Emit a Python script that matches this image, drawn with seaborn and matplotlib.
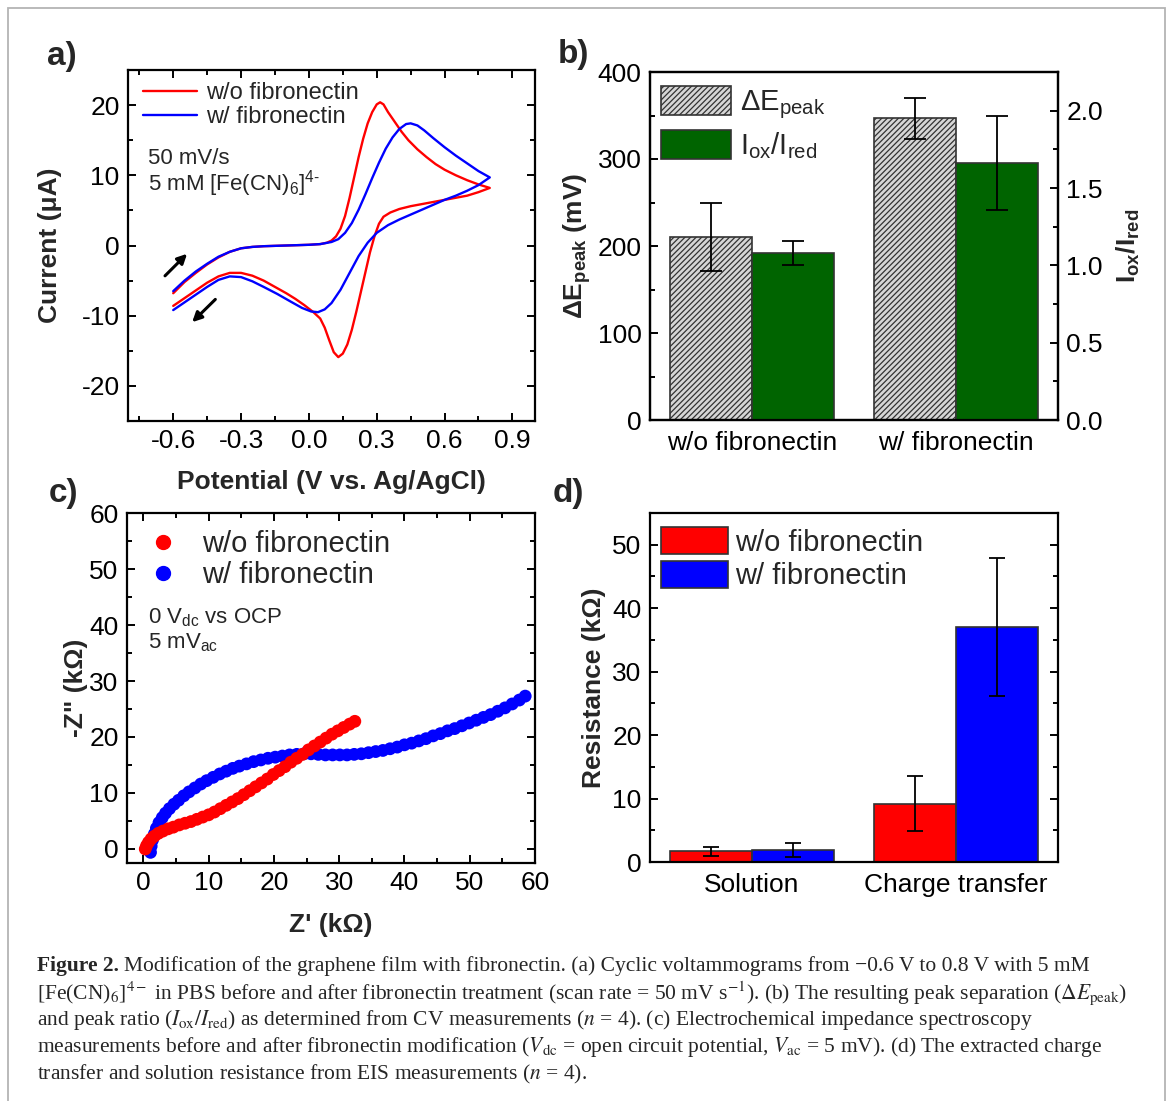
import numpy as np
import pandas as pd
import matplotlib
matplotlib.use("Agg")
import matplotlib.pyplot as plt
import seaborn as sns
from matplotlib.patches import Patch, Rectangle
from matplotlib.lines import Line2D
from matplotlib.ticker import MultipleLocator, FormatStrFormatter

# ---------------- data ----------------
# (a) cyclic voltammograms: forward (anodic) and reverse (cathodic) branches
cv_wo_fwd_E = [-0.60, -0.55, -0.50, -0.45, -0.40, -0.35, -0.30, -0.25, -0.20, -0.10, 0.00, 0.05, 0.08, 0.10,
               0.12, 0.14, 0.16, 0.18, 0.20, 0.22, 0.24, 0.26, 0.28, 0.30, 0.315, 0.33, 0.35, 0.38, 0.41,
               0.44, 0.48, 0.52, 0.56, 0.60, 0.65, 0.70, 0.75, 0.80]
cv_wo_fwd_I = [-6.8, -5.2, -3.9, -2.7, -1.7, -0.9, -0.4, -0.2, -0.1, 0.0, 0.1, 0.2, 0.4, 0.7,
               1.3, 2.4, 4.2, 6.8, 9.7, 12.6, 15.2, 17.4, 19.0, 20.1, 20.4, 20.1, 19.0, 17.6, 16.2,
               15.0, 13.7, 12.6, 11.6, 10.8, 10.0, 9.3, 8.7, 8.2]
cv_wo_rev_E = [0.80, 0.75, 0.70, 0.65, 0.60, 0.55, 0.50, 0.45, 0.40, 0.36, 0.33, 0.31, 0.29, 0.27, 0.25,
               0.23, 0.21, 0.19, 0.17, 0.15, 0.13, 0.11, 0.09, 0.07, 0.05, 0.02, -0.02, -0.06, -0.10,
               -0.15, -0.20, -0.25, -0.30, -0.35, -0.40, -0.45, -0.50, -0.55, -0.60]
cv_wo_rev_I = [8.2, 7.6, 7.1, 6.8, 6.5, 6.2, 5.9, 5.6, 5.2, 4.7, 4.1, 3.1, 1.3, -1.0, -3.8,
               -6.6, -9.4, -12.0, -14.1, -15.4, -15.9, -15.2, -13.5, -11.7, -10.4, -9.5, -8.5, -7.6, -6.8,
               -5.9, -5.0, -4.3, -3.9, -3.9, -4.4, -5.3, -6.4, -7.5, -8.6]
cv_w_fwd_E = [-0.60, -0.55, -0.50, -0.45, -0.40, -0.35, -0.30, -0.25, -0.20, -0.10, 0.00, 0.05, 0.10,
              0.13, 0.16, 0.19, 0.22, 0.25, 0.28, 0.31, 0.34, 0.37, 0.40, 0.43, 0.45, 0.48, 0.51, 0.55,
              0.60, 0.65, 0.70, 0.75, 0.80]
cv_w_fwd_I = [-6.5, -5.0, -3.7, -2.6, -1.6, -0.9, -0.4, -0.2, -0.1, 0.0, 0.1, 0.2, 0.5,
              0.9, 1.8, 3.2, 5.1, 7.3, 9.6, 11.8, 13.8, 15.4, 16.6, 17.3, 17.4, 17.1, 16.4, 15.3,
              14.0, 12.8, 11.7, 10.6, 9.7]
cv_w_rev_E = [0.80, 0.75, 0.70, 0.65, 0.60, 0.55, 0.50, 0.45, 0.40, 0.35, 0.30, 0.26, 0.22, 0.18, 0.14,
              0.10, 0.07, 0.04, 0.01, -0.03, -0.08, -0.14, -0.20, -0.25, -0.30, -0.35, -0.40, -0.45,
              -0.50, -0.55, -0.60]
cv_w_rev_I = [9.7, 8.6, 7.8, 7.1, 6.5, 5.8, 5.1, 4.4, 3.7, 2.9, 1.8, 0.4, -1.5, -3.9, -6.3,
              -8.2, -9.1, -9.5, -9.4, -8.9, -8.0, -6.9, -5.9, -5.1, -4.5, -4.4, -4.9, -5.9,
              -7.0, -8.1, -9.2]

# (b) peak separation and peak ratio (n = 4)
conditions = ["w/o fibronectin", "w/ fibronectin"]
dE_peak = [210, 347]
dE_peak_err = [39, 23.5]
peak_ratio = [1.08, 1.66]
peak_ratio_err = [0.075, 0.305]

# (c) Nyquist plots
zre_wo = [0.3, 0.5, 0.8, 1.2, 1.7, 2.3, 3.0, 3.8, 4.6, 5.5, 6.4, 7.3, 8.2, 9.1, 10.0, 10.9, 11.8, 12.7,
          13.6, 14.5, 15.4, 16.3, 17.2, 18.1, 19.0, 19.9, 20.8, 21.7, 22.6, 23.5, 24.4, 25.3, 26.2,
          27.1, 28.0, 28.9, 29.8, 30.7, 31.6, 32.4]
zim_wo = [0.0, 0.6, 1.2, 1.8, 2.3, 2.8, 3.2, 3.6, 3.9, 4.3, 4.6, 4.9, 5.3, 5.7, 6.1, 6.6, 7.2, 7.8,
          8.4, 9.0, 9.7, 10.4, 11.1, 11.8, 12.5, 13.3, 14.0, 14.7, 15.5, 16.2, 16.9, 17.7, 18.4,
          19.1, 19.8, 20.5, 21.1, 21.7, 22.3, 22.8]
zre_w = [1.1, 1.2, 1.4, 1.7, 2.0, 2.4, 2.9, 3.4, 4.0, 4.7, 5.4, 6.2, 7.0, 7.9, 8.8, 9.7, 10.7, 11.7,
         12.7, 13.7, 14.7, 15.8, 16.9, 18.0, 19.1, 20.2, 21.3, 22.4, 23.5, 24.6, 25.7, 26.8, 27.9,
         29.0, 30.1, 31.2, 32.3, 33.4, 34.5, 35.6, 36.7, 37.8, 38.9, 40.0, 41.1, 42.2, 43.3, 44.4,
         45.5, 46.6, 47.7, 48.8, 49.9, 51.0, 52.1, 53.2, 54.3, 55.4, 56.5, 57.6, 58.5]
zim_w = [-0.6, 0.5, 1.6, 2.7, 3.7, 4.7, 5.6, 6.4, 7.2, 8.0, 8.7, 9.5, 10.2, 10.9, 11.6, 12.2, 12.8, 13.4,
         13.9, 14.4, 14.8, 15.2, 15.6, 15.9, 16.2, 16.4, 16.6, 16.8, 16.9, 17.0, 17.0, 16.9, 16.8,
         16.8, 16.8, 16.8, 16.9, 17.0, 17.2, 17.4, 17.6, 17.9, 18.2, 18.6, 18.9, 19.3, 19.7, 20.2,
         20.6, 21.1, 21.5, 22.0, 22.5, 23.0, 23.5, 24.0, 24.6, 25.2, 25.9, 26.6, 27.3]

# (d) extracted resistances (n = 4)
res_types = ["Solution", "Charge transfer"]
res_wo = [1.7, 9.2]
res_wo_err = [0.7, 4.3]
res_w = [1.9, 37.0]
res_w_err = [1.1, 10.9]

# ---------------- style ----------------
RED, BLUE, GREEN, GRAY = "#ff0000", "#0000ff", "#006400", "#d6d6d6"
sns.set_theme(style="ticks")
plt.rcParams['font.family'] = ['Liberation Sans', 'DejaVu Sans']
plt.rcParams['mathtext.fontset'] = 'custom'
plt.rcParams['mathtext.rm'] = 'Liberation Sans'
plt.rcParams['mathtext.it'] = 'Liberation Sans:italic'
plt.rcParams['mathtext.bf'] = 'Liberation Sans:bold'
plt.rcParams['axes.unicode_minus'] = False
plt.rcParams['hatch.linewidth'] = 0.9

W, H = 1171, 1101
fig = plt.figure(figsize=(W / 100, H / 100), dpi=100)


def rect(l, t, r, b):
    return [l / W, 1 - b / H, (r - l) / W, (b - t) / H]


ax_a = fig.add_axes(rect(128, 70, 535, 421))
ax_b = fig.add_axes(rect(650, 72, 1058, 420))
ax_c = fig.add_axes(rect(127, 513, 535, 863))
ax_d = fig.add_axes(rect(650, 513, 1058, 862))

TICK_FS = 19
LABEL_FS = 19


def style(ax, top=True, right=True, bottom=True, left=True):
    for s in ax.spines.values():
        s.set_linewidth(1.6)
        s.set_color('black')
        s.set_visible(True)
    ax.tick_params(which='both', direction='in', top=top, right=right, bottom=bottom, left=left,
                   width=1.4, colors='black', labelsize=TICK_FS, pad=6)
    ax.tick_params(which='major', length=6)
    ax.tick_params(which='minor', length=3.5)
    ax.grid(False)


# ---------------- (a) CV ----------------
df_cv = pd.concat([
    pd.DataFrame({"E": cv_wo_fwd_E + cv_wo_rev_E, "I": cv_wo_fwd_I + cv_wo_rev_I, "cond": conditions[0]}),
    pd.DataFrame({"E": cv_w_fwd_E + cv_w_rev_E, "I": cv_w_fwd_I + cv_w_rev_I, "cond": conditions[1]}),
], ignore_index=True)
sns.lineplot(data=df_cv, x="E", y="I", hue="cond", palette={conditions[0]: RED, conditions[1]: BLUE},
             sort=False, estimator=None, lw=1.7, legend=False, ax=ax_a)
ax_a.set_xlim(-0.8, 1.0)
ax_a.set_ylim(-25, 25)
ax_a.xaxis.set_major_locator(MultipleLocator(0.3))
ax_a.xaxis.set_minor_locator(MultipleLocator(0.15))
ax_a.xaxis.set_major_formatter(FormatStrFormatter('%.1f'))
ax_a.yaxis.set_major_locator(MultipleLocator(10))
ax_a.yaxis.set_minor_locator(MultipleLocator(5))
style(ax_a)
ax_a.set_xlabel("Potential (V vs. Ag/AgCl)", fontsize=LABEL_FS, weight='bold')
ax_a.set_ylabel("Current (μA)", fontsize=LABEL_FS, weight='bold')
ax_a.xaxis.label.set_va('center')
ax_a.xaxis.set_label_coords(0.5, (421 - 482) / 351)
ax_a.yaxis.label.set_va('center')
ax_a.yaxis.set_label_coords((50 - 128) / 407, 0.5)
ax_a.legend([Line2D([], [], color=RED, lw=1.7), Line2D([], [], color=BLUE, lw=1.7)], conditions,
            loc='upper left', bbox_to_anchor=((143 - 128) / 407, 1 - (82 - 70) / 351), frameon=False,
            fontsize=17, handlelength=2.3, handletextpad=0.35, labelspacing=0.1, borderaxespad=0,
            borderpad=0)
ax_a.text((148 - 128) / 407, 1 - (158 - 70) / 351, "50 mV/s", transform=ax_a.transAxes,
          fontsize=16, va='center', ha='left')
ax_a.text((148 - 128) / 407, 1 - (184 - 70) / 351, r"5 mM [Fe(CN)$_6$]$^{4\text{-}}$", transform=ax_a.transAxes,
          fontsize=16, va='center', ha='left')
ax_a.annotate('', xy=(-0.53, -0.9), xytext=(-0.645, -4.6),
              arrowprops=dict(arrowstyle='-|>', color='black', lw=2.2, mutation_scale=14))
ax_a.annotate('', xy=(-0.525, -11.2), xytext=(-0.405, -7.4),
              arrowprops=dict(arrowstyle='-|>', color='black', lw=2.2, mutation_scale=14))

# ---------------- (b) peak separation / ratio ----------------
metrics = ["dE", "ratio"]
df_dE = pd.DataFrame({"cond": conditions, "metric": "dE", "value": dE_peak})
df_ratio = pd.DataFrame({"cond": conditions, "metric": "ratio", "value": peak_ratio})
pal_b = {"dE": GRAY, "ratio": GREEN}
sns.barplot(data=df_dE, x="cond", y="value", hue="metric", hue_order=metrics, palette=pal_b,
            order=conditions, errorbar=None, legend=False, edgecolor='#333333', linewidth=1.2,
            saturation=1, dodge=True, ax=ax_b)
ax_b2 = ax_b.twinx()
sns.barplot(data=df_ratio, x="cond", y="value", hue="metric", hue_order=metrics, palette=pal_b,
            order=conditions, errorbar=None, legend=False, edgecolor='#333333', linewidth=1.2,
            saturation=1, dodge=True, ax=ax_b2)
for p in ax_b.patches:
    p.set_hatch('//////')


def add_err(ax, errs_by_hue, hue_idx_default=None, capsize=7):
    for p in list(ax.patches):
        xc = p.get_x() + p.get_width() / 2
        h = p.get_height()
        if not np.isfinite(h) or h == 0:
            continue
        i = int(round(xc))
        if hue_idx_default is None:
            k = 0 if xc < i else 1
        else:
            k = hue_idx_default
        ax.errorbar(xc, h, yerr=errs_by_hue[k][i], color='black', lw=1.3, capsize=capsize, capthick=1.3,
                    zorder=5)


add_err(ax_b, [dE_peak_err], hue_idx_default=0, capsize=8)
add_err(ax_b2, [peak_ratio_err], hue_idx_default=0, capsize=8)
ax_b.set_xlim(-0.5, 1.5)
ax_b.set_ylim(0, 400)
ax_b2.set_ylim(0, 2.25)
ax_b.yaxis.set_major_locator(MultipleLocator(100))
ax_b.yaxis.set_minor_locator(MultipleLocator(50))
ax_b2.yaxis.set_major_locator(MultipleLocator(0.5))
ax_b2.yaxis.set_minor_locator(MultipleLocator(0.25))
ax_b2.yaxis.set_major_formatter(FormatStrFormatter('%.1f'))
style(ax_b, top=False, right=False, bottom=False)
ax_b.tick_params(axis='x', which='both', length=0, pad=8)
style(ax_b2, top=False, left=False, bottom=False)
ax_b2.tick_params(axis='y', which='both', labelright=True, labelleft=False)
ax_b.set_xlabel("")
ax_b.set_ylabel(r"ΔE$_{\mathbf{peak}}$ (mV)", fontsize=LABEL_FS, weight='bold')
ax_b.yaxis.label.set_va('center')
ax_b.yaxis.set_label_coords((577 - 650) / 408, 0.5)
ax_b2.set_ylabel(r"I$_{\mathbf{ox}}$/I$_{\mathbf{red}}$", fontsize=LABEL_FS, weight='bold', rotation=90)
ax_b2.yaxis.label.set_va('center')
ax_b2.yaxis.set_label_coords((1128 - 650) / 408, 0.5)
ax_b2.legend([Patch(facecolor=GRAY, edgecolor='#333333', hatch='//////', lw=1.2),
              Patch(facecolor=GREEN, edgecolor='#333333', lw=1.2)],
             [r"ΔE$_{\rm peak}$", r"I$_{\rm ox}$/I$_{\rm red}$"],
             loc='upper left', bbox_to_anchor=((661 - 650) / 408, 1 - (86 - 72) / 348), frameon=False,
             fontsize=21, handlelength=2.4, handleheight=1.15, handletextpad=0.3, labelspacing=0.3,
             borderaxespad=0, borderpad=0)

# ---------------- (c) Nyquist ----------------
df_eis = pd.concat([
    pd.DataFrame({"Zre": zre_w, "Zim": zim_w, "cond": conditions[1]}),
    pd.DataFrame({"Zre": zre_wo, "Zim": zim_wo, "cond": conditions[0]}),
], ignore_index=True)
sns.scatterplot(data=df_eis, x="Zre", y="Zim", hue="cond", palette={conditions[0]: RED, conditions[1]: BLUE},
                s=85, linewidth=0, legend=False, ax=ax_c)
ax_c.set_xlim(-2.5, 60)
ax_c.set_ylim(-2.5, 60)
for axis in (ax_c.xaxis, ax_c.yaxis):
    axis.set_major_locator(MultipleLocator(10))
    axis.set_minor_locator(MultipleLocator(5))
style(ax_c)
ax_c.set_xlabel("Z' (kΩ)", fontsize=LABEL_FS, weight='bold')
ax_c.set_ylabel('-Z" (kΩ)', fontsize=LABEL_FS, weight='bold')
ax_c.xaxis.label.set_va('center')
ax_c.xaxis.set_label_coords(0.5, (863 - 925) / 350)
ax_c.yaxis.label.set_va('center')
ax_c.yaxis.set_label_coords((76 - 127) / 408, 0.5)
ax_c.legend([Line2D([], [], ls='none', marker='o', color=RED, markersize=10),
             Line2D([], [], ls='none', marker='o', color=BLUE, markersize=10)], conditions,
            loc='upper left', bbox_to_anchor=((148 - 127) / 408, 1 - (530 - 513) / 350), frameon=False,
            fontsize=21, handlelength=1.0, handletextpad=0.85, labelspacing=0.1, borderaxespad=0,
            borderpad=0)
ax_c.text((148 - 127) / 408, 1 - (618 - 513) / 350, r"0 V$_{\rm dc}$ vs OCP", transform=ax_c.transAxes,
          fontsize=16, va='center', ha='left')
ax_c.text((148 - 127) / 408, 1 - (643 - 513) / 350, r"5 mV$_{\rm ac}$", transform=ax_c.transAxes,
          fontsize=16, va='center', ha='left')

# ---------------- (d) resistances ----------------
df_res = pd.concat([
    pd.DataFrame({"type": res_types, "value": res_wo, "cond": conditions[0]}),
    pd.DataFrame({"type": res_types, "value": res_w, "cond": conditions[1]}),
], ignore_index=True)
sns.barplot(data=df_res, x="type", y="value", hue="cond", hue_order=conditions, order=res_types,
            palette={conditions[0]: RED, conditions[1]: BLUE}, errorbar=None, legend=False,
            edgecolor='#333333', linewidth=1.2, saturation=1, dodge=True, ax=ax_d)
add_err(ax_d, [res_wo_err, res_w_err], capsize=6)
ax_d.set_xlim(-0.5, 1.5)
ax_d.set_ylim(0, 55)
ax_d.yaxis.set_major_locator(MultipleLocator(10))
ax_d.yaxis.set_minor_locator(MultipleLocator(5))
style(ax_d, top=False, bottom=False)
ax_d.tick_params(axis='x', which='both', length=0, pad=8)
ax_d.tick_params(axis='y', which='both', labelright=False)
ax_d.set_xlabel("")
ax_d.set_ylabel("Resistance (kΩ)", fontsize=LABEL_FS, weight='bold')
ax_d.yaxis.label.set_va('center')
ax_d.yaxis.set_label_coords((594 - 650) / 408, 0.5)
ax_d.legend([Patch(facecolor=RED, edgecolor='#333333', lw=1.2),
             Patch(facecolor=BLUE, edgecolor='#333333', lw=1.2)], conditions,
            loc='upper left', bbox_to_anchor=((661 - 650) / 408, 1 - (527 - 513) / 349), frameon=False,
            fontsize=21, handlelength=2.3, handleheight=1.07, handletextpad=0.25, labelspacing=0.14,
            borderaxespad=0, borderpad=0)

# ---------------- panel letters ----------------
for lab, x, y in [("a)", 62, 56), ("b)", 573, 54), ("c)", 64, 493), ("d)", 568, 493)]:
    fig.text(x / W, 1 - y / H, lab, fontsize=24, weight='bold', ha='center', va='center')

# ---------------- frame ----------------
fig.add_artist(Rectangle((8 / W, -0.05), (1165 - 8) / W, 1.05 - 8 / H, transform=fig.transFigure,
                         fill=False, edgecolor='#b4b4b4', lw=1.3))

# ---------------- caption ----------------
CAP_FS = 15.5
cap_kw = dict(fontsize=CAP_FS, family=['Liberation Serif', 'DejaVu Serif'], math_fontfamily='stix',
              va='center', ha='left')
cap_lines = [
    r"Modification of the graphene film with fibronectin. (a) Cyclic voltammograms from −0.6 V to 0.8 V with 5 mM",
    r"[Fe(CN)$_6$]$^{4-}$ in PBS before and after fibronectin treatment (scan rate = 50 mV s$^{-1}$). (b) The resulting peak separation ($\Delta E_{\rm peak}$)",
    r"and peak ratio ($I_{\rm ox}/I_{\rm red}$) as determined from CV measurements ($n$ = 4). (c) Electrochemical impedance spectroscopy",
    r"measurements before and after fibronectin modification ($V_{\rm dc}$ = open circuit potential, $V_{\rm ac}$ = 5 mV). (d) The extracted charge",
    r"transfer and solution resistance from EIS measurements ($n$ = 4).",
]
y0, dy, x0 = 966, 27, 37
t_fig = fig.text(x0 / W, 1 - y0 / H, "Figure 2.", weight='bold', **cap_kw)
renderer = fig.canvas.get_renderer()
bb = t_fig.get_window_extent(renderer=renderer)
fig.text((bb.x1 + 5) / W, 1 - y0 / H, cap_lines[0], **cap_kw)
for k, line in enumerate(cap_lines[1:], start=1):
    fig.text(x0 / W, 1 - (y0 + k * dy) / H, line, **cap_kw)

fig.savefig("out.png", dpi=100, facecolor='white')
